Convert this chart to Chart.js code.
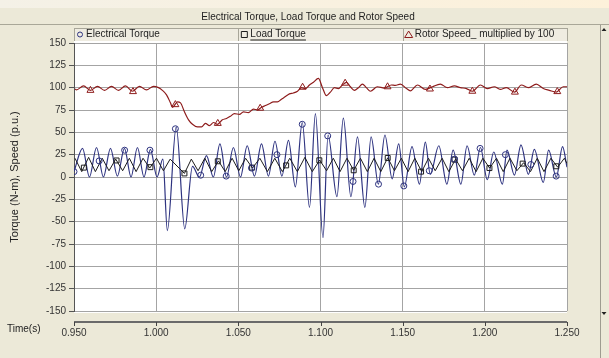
<!DOCTYPE html>
<html>
<head>
<meta charset="utf-8">
<title>Electrical Torque, Load Torque and Rotor Speed</title>
<script src="https://cdn.jsdelivr.net/npm/chart.js@4.4.0/dist/chart.umd.min.js"></script>
<style>
  html, body { margin: 0; padding: 0; background: #ECE9D8; }
  canvas { display: block; }
</style>
</head>
<body>
<canvas id="plot" width="609" height="358"></canvas>
<script>
'use strict';

const TITLE = 'Electrical Torque, Load Torque and Rotor Speed';
const SERIES_NAMES = ['Electrical Torque', 'Load Torque', 'Rotor Speed_ multiplied by 100'];
const Y_TITLE = 'Torque (N-m), Speed (p.u.)';
const X_TITLE = 'Time(s)';
const T_MIN = 0.95, T_MAX = 1.25, T_STEP = 0.05;
const Y_MIN = -150, Y_MAX = 150, Y_STEP = 25;

// Electrical torque (N-m), turning points of the trace
const ET_T = [0.9500,0.9552,0.9594,0.9637,0.9679,0.9722,0.9764,0.9807,0.9847,0.9886,
  0.9926,0.9965,1.0005,1.0041,1.0068,1.0122,1.0174,1.0221,1.0263,1.0306,
  1.0348,1.0388,1.0428,1.0470,1.0513,1.0554,1.0598,1.0641,1.0683,1.0723,
  1.0765,1.0805,1.0847,1.0889,1.0933,1.0969,1.1015,1.1046,1.1100,1.1139,
  1.1185,1.1225,1.1270,1.1308,1.1352,1.1392,1.1436,1.1476,1.1510,1.1557,
  1.1602,1.1638,1.1668,1.1720,1.1769,1.1807,1.1854,1.1892,1.1936,1.1973,
  1.2015,1.2054,1.2107,1.2135,1.2180,1.2220,1.2265,1.2301,1.2356,1.2388,
  1.2435,1.2473,1.2500];
const ET_V = [6,32,0,33,0,32,1,32,0,33,
  0,31,0,20,-60,56,-58,12,0,24,
  0,37,0,33,0,35,1,37,1,40,
  1,41,-11,61,-34,71,-68,47,-22,66,
  -22,45,-34,45,-8,47,-2,37,-11,34,
  -8,39,3,35,-8,30,-8,35,2,33,
  -3,28,-8,30,2,36,3,31,-6,30,
  0,34,11];

// Load torque (N-m), turning points of the zig-zag
const LT_T = [0.9506,0.9547,0.9589,0.9630,0.9672,0.9713,0.9754,0.9796,0.9837,0.9878,
  0.9920,0.9961,1.0002,1.0044,1.0085,1.0172,1.0214,1.0255,1.0296,1.0338,
  1.0379,1.0420,1.0462,1.0503,1.0544,1.0586,1.0631,1.0677,1.0722,1.0768,
  1.0813,1.0859,1.0905,1.0950,1.0995,1.1037,1.1078,1.1119,1.1161,1.1202,
  1.1243,1.1285,1.1326,1.1367,1.1409,1.1450,1.1492,1.1533,1.1574,1.1616,
  1.1657,1.1698,1.1740,1.1781,1.1822,1.1864,1.1905,1.1947,1.1988,1.2029,
  1.2071,1.2112,1.2153,1.2195,1.2236,1.2278,1.2319,1.2360,1.2402,1.2443,
  1.2484,1.2500];
const LT_V = [21,6,22,6,21,7,20,7,21,6,
  21,10,21,7,20,4,20,7,21,6,
  18,6,21,7,21,10,21,6,21,6,
  21,6,22,6,19,7,21,6,21,7.5,
  21,6,21,6,21.5,7,21,6,21,6,
  21,7,21,6,20,7,21,6,21,10,
  21,6,21,7,16,6,21,6,21,11,
  21,15];

// Rotor speed x 100 (p.u.)
const RS_T = [0.9506,0.9515,0.9558,0.9600,0.9643,0.9686,0.9728,0.9771,0.9813,0.9856,
  0.9898,0.9941,0.9984,1.0014,1.0038,1.0063,1.0087,1.0099,1.0130,1.0148,
  1.0172,1.0197,1.0221,1.0251,1.0276,1.0300,1.0324,1.0349,1.0373,1.0403,
  1.0428,1.0452,1.0476,1.0507,1.0531,1.0561,1.0592,1.0616,1.0641,1.0665,
  1.0689,1.0714,1.0738,1.0762,1.0787,1.0811,1.0835,1.0860,1.0884,1.0908,
  1.0933,1.0957,1.0987,1.1012,1.1036,1.1060,1.1085,1.1109,1.1133,1.1158,
  1.1182,1.1206,1.1231,1.1255,1.1279,1.1304,1.1346,1.1389,1.1431,1.1455,
  1.1486,1.1523,1.1547,1.1590,1.1638,1.1681,1.1729,1.1772,1.1815,1.1851,
  1.1888,1.1924,1.1973,1.2015,1.2058,1.2094,1.2131,1.2180,1.2222,1.2264,
  1.2313,1.2356,1.2392,1.2435,1.2477,1.2500];
const RS_V = [98.5,97.5,102,97,101.5,97,101.5,97,102,96,
  101.5,97.5,101.5,100,97,92,83,78,84,83,
  73,64,59,56,56,60,57.5,61,59,64,
  65.5,68,71,70,73,72,76,75,78,80,
  82,84,84,87,90,93,94,96,100,99,
  103,106,110.5,100,91,95,100,99,103,106,
  101,97,100,104,100,96,101,99.5,103,102.5,
  104,99,96.5,103,98,101,104,100,102,100,
  99,96,103,99,101,98,100,95,103,100,
  104,99,97,95,101,101];

// symbol positions along each trace
const ET_MK_T = [0.9500,0.9653,0.9808,0.9962,1.0117,1.0271,1.0426,1.0580,1.0735,1.0889,
  1.1044,1.1198,1.1353,1.1507,1.1662,1.1816,1.1971,1.2125,1.2280,1.2434];
const ET_MK_V = [6,18,30,30,54,2,1,10,25,59,46,-5,-8,-10,7,20,32,25,14,1];
const LT_MK_T = [0.9560,0.9759,0.9965,1.0172,1.0375,1.0584,1.0791,1.0993,1.1202,1.1409,
  1.1612,1.1815,1.2028,1.2230,1.2435];
const LT_MK_V = [10.5,18.5,11,4,17.6,10.5,13,18.7,7.5,21.3,6,19.5,10,15,12];
const RS_MK_T = [0.9600,0.9859,1.0117,1.0375,1.0633,1.0891,1.1150,1.1408,1.1666,1.1924,
  1.2183,1.2441];
const RS_MK_V = [97,95.6,81,60,77,100.5,105,101,98.5,96,95,95.6];

const FONT = '"Liberation Sans", Arial, sans-serif';
const COLORS = ['#2E3380', '#1C1C1C', '#8E1C1C'];
const MARKS = ['circle', 'rect', 'triangle'];

function pts(ts, vs) {
  return ts.map((t, i) => ({ x: t, y: vs[i] }));
}

function lineSet(i, ts, vs, smooth, width, order) {
  return {
    label: SERIES_NAMES[i],
    data: pts(ts, vs),
    borderColor: COLORS[i],
    borderWidth: width,
    pointRadius: 0,
    cubicInterpolationMode: smooth ? 'monotone' : 'default',
    tension: 0,
    order: order
  };
}

function markSet(i, ts, vs, r) {
  return {
    label: SERIES_NAMES[i] + ' markers',
    data: pts(ts, vs),
    showLine: false,
    pointStyle: MARKS[i],
    pointRadius: r,
    pointBorderWidth: 1,
    pointBorderColor: COLORS[i],
    pointBackgroundColor: 'rgba(255,255,255,0)',
    order: 0
  };
}

function symbol(ctx, style, color, x, y) {
  ctx.strokeStyle = color;
  ctx.lineWidth = 1;
  ctx.beginPath();
  if (style === 'circle') {
    ctx.arc(x, y, 2.5, 0, Math.PI * 2);
  } else if (style === 'rect') {
    ctx.rect(x - 3, y - 3, 6, 6);
  } else {
    ctx.moveTo(x, y - 3.5);
    ctx.lineTo(x + 4, y + 3);
    ctx.lineTo(x - 4, y + 3);
    ctx.closePath();
  }
  ctx.stroke();
}

// window chrome: title band, legend strip, plot background, time axis
const panel = {
  id: 'panel',
  beforeDraw(chart) {
    const { ctx, width, height, chartArea: a } = chart;
    ctx.save();
    ctx.fillStyle = '#ECE9D8';
    ctx.fillRect(0, 0, width, height);
    const g = ctx.createLinearGradient(0, 0, width, 0);
    g.addColorStop(0, '#F4F1E7');
    g.addColorStop(1, '#FDF1DA');
    ctx.fillStyle = g;
    ctx.fillRect(0, 0, width, 8);
    ctx.fillStyle = '#A9A798';
    ctx.fillRect(0, 24, width, 1);

    ctx.font = '10px ' + FONT;
    ctx.fillStyle = '#1E1E1E';
    ctx.textAlign = 'center';
    ctx.textBaseline = 'middle';
    ctx.fillText(TITLE, 308, 17);

    ctx.fillStyle = '#FFFFFF';
    ctx.fillRect(a.left, a.top - 2, a.right - a.left, a.bottom - a.top + 4);

    // legend strip, one cell per series
    const cw = (a.right - a.left) / 3, top = 28, bottom = a.top - 2;
    ctx.fillStyle = '#EFECE1';
    ctx.fillRect(a.left, top, a.right - a.left, bottom - top);
    ctx.strokeStyle = '#A8A699';
    ctx.lineWidth = 1;
    ctx.beginPath();
    for (let i = 0; i <= 3; i++) {
      const x = Math.round(a.left + i * cw) + 0.5;
      ctx.moveTo(x, top);
      ctx.lineTo(x, bottom);
    }
    ctx.moveTo(a.left, top + 0.5);
    ctx.lineTo(a.right, top + 0.5);
    ctx.stroke();

    ctx.textAlign = 'left';
    SERIES_NAMES.forEach((name, i) => {
      const x0 = a.left + i * cw;
      const ty = 34.5;
      symbol(ctx, MARKS[i], COLORS[i], x0 + 6, ty);
      ctx.fillStyle = '#1E1E1E';
      ctx.fillText(name, x0 + 12, ty);
      if (i === 1) {
        const w = ctx.measureText(name).width;
        ctx.fillRect(x0 + 12, ty + 5, w, 1);
      }
    });
    ctx.restore();
  },
  afterDraw(chart) {
    const { ctx, height, chartArea: a } = chart;
    const xs = chart.scales.x;
    const axisY = a.bottom + 11;
    ctx.save();
    ctx.strokeStyle = '#6A6A6A';
    ctx.lineWidth = 2;
    ctx.beginPath();
    ctx.moveTo(a.left, axisY);
    ctx.lineTo(a.right, axisY);
    ctx.stroke();
    ctx.lineWidth = 1;
    ctx.strokeStyle = '#444';
    ctx.beginPath();
    xs.ticks.forEach(t => {
      const px = Math.round(xs.getPixelForValue(t.value)) + 0.5;
      ctx.moveTo(px, axisY);
      ctx.lineTo(px, axisY + 4);
    });
    ctx.stroke();

    ctx.font = '10px ' + FONT;
    ctx.fillStyle = '#222';
    ctx.textAlign = 'left';
    ctx.textBaseline = 'middle';
    ctx.fillText(X_TITLE, 7, axisY + 7);

    // scroll strip on the right edge
    ctx.fillStyle = '#9E9C90';
    ctx.fillRect(600, 25, 1, height - 25);
    ctx.fillStyle = '#222';
    ctx.beginPath();
    ctx.moveTo(604, 28); ctx.lineTo(606.5, 31); ctx.lineTo(601.5, 31); ctx.closePath();
    ctx.moveTo(604, 315); ctx.lineTo(606.5, 312); ctx.lineTo(601.5, 312); ctx.closePath();
    ctx.fill();
    ctx.restore();
  }
};

new Chart(document.getElementById('plot'), {
  type: 'line',
  data: {
    datasets: [
      lineSet(0, ET_T, ET_V, true, 1.2, 3),
      lineSet(1, LT_T, LT_V, false, 1, 2),
      lineSet(2, RS_T, RS_V, true, 1.2, 3),
      markSet(0, ET_MK_T, ET_MK_V, 3),
      markSet(1, LT_MK_T, LT_MK_V, 3.5),
      markSet(2, RS_MK_T, RS_MK_V, 4)
    ]
  },
  options: {
    responsive: false,
    animation: false,
    events: [],
    layout: { padding: { left: 0, right: 42, top: 43, bottom: 0 } },
    plugins: {
      legend: { display: false },
      title: { display: false },
      tooltip: { enabled: false }
    },
    scales: {
      x: {
        type: 'linear',
        min: T_MIN,
        max: T_MAX,
        afterFit(s) { s.height = 47; },
        border: { display: false },
        grid: { color: '#A4A4A4', lineWidth: 1, drawTicks: false },
        ticks: {
          stepSize: T_STEP,
          padding: 16,
          color: '#333',
          font: { family: FONT, size: 10 },
          callback: v => v.toFixed(3)
        }
      },
      y: {
        min: Y_MIN,
        max: Y_MAX,
        afterFit(s) { s.width = 74; },
        border: { display: true, color: '#555', width: 1 },
        grid: { color: '#A4A4A4', lineWidth: 1, tickLength: 5, tickColor: '#555' },
        ticks: {
          stepSize: Y_STEP,
          padding: 3,
          color: '#333',
          font: { family: FONT, size: 10 }
        },
        title: {
          display: true,
          text: Y_TITLE,
          color: '#222',
          font: { family: FONT, size: 11 },
          padding: { top: 8, bottom: 0 }
        }
      }
    }
  },
  plugins: [panel]
});
</script>
</body>
</html>
